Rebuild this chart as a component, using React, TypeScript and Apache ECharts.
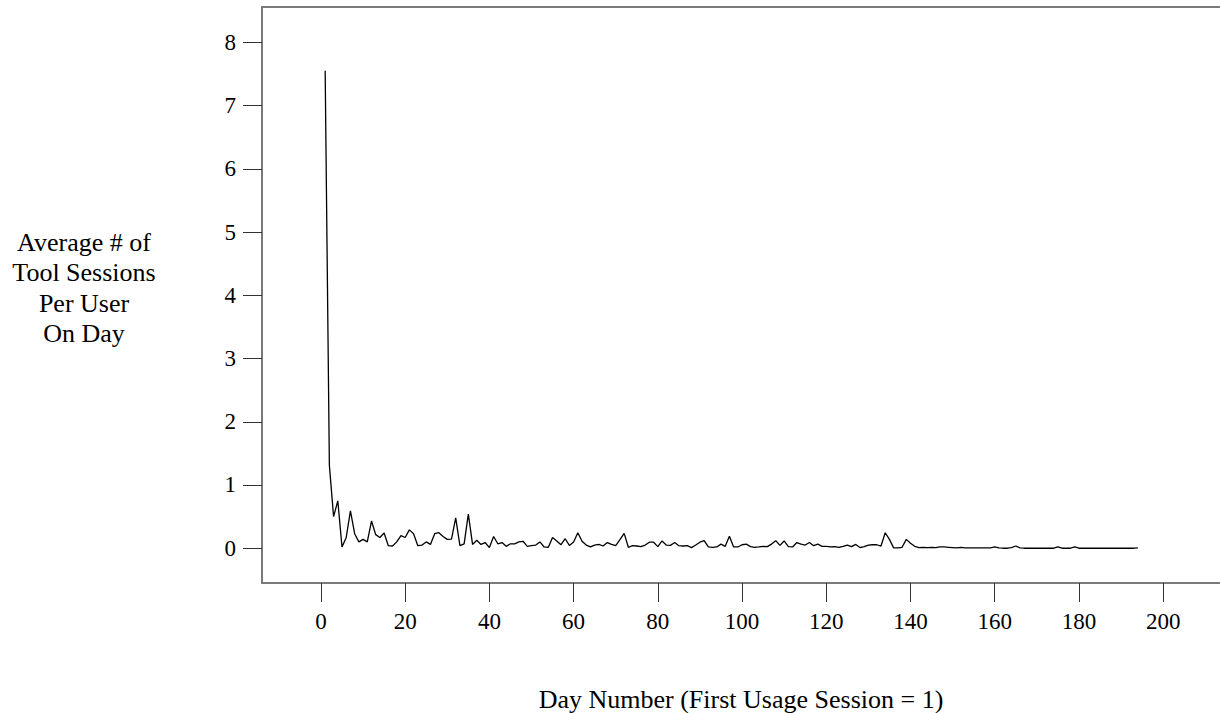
import React, { useEffect, useRef } from "react";
import * as echarts from "echarts";

// Average # of tool sessions per user, for day numbers starting at 1
const firstDay = 1;
const sessionsPerUser: number[] = [
  7.55, 1.31, 0.5, 0.75, 0.02, 0.17, 0.59, 0.23, 0.1, 0.14,
  0.1, 0.43, 0.215, 0.17, 0.24, 0.04, 0.035, 0.1, 0.2, 0.17,
  0.29, 0.23, 0.04, 0.05, 0.1, 0.06, 0.23, 0.245, 0.185, 0.14,
  0.145, 0.48, 0.04, 0.07, 0.54, 0.06, 0.125, 0.06, 0.09, 0.01,
  0.185, 0.07, 0.09, 0.03, 0.07, 0.07, 0.1, 0.11, 0.03, 0.04,
  0.05, 0.1, 0.02, 0.015, 0.17, 0.115, 0.055, 0.15, 0.045, 0.1,
  0.245, 0.11, 0.05, 0.02, 0.05, 0.06, 0.035, 0.09, 0.06, 0.04,
  0.135, 0.235, 0.015, 0.04, 0.035, 0.025, 0.05, 0.095, 0.095, 0.025,
  0.115, 0.05, 0.045, 0.09, 0.04, 0.035, 0.04, 0.01, 0.05, 0.095,
  0.12, 0.02, 0.015, 0.02, 0.065, 0.03, 0.19, 0.02, 0.02, 0.055,
  0.065, 0.025, 0.015, 0.02, 0.03, 0.025, 0.065, 0.12, 0.045, 0.115,
  0.025, 0.02, 0.09, 0.065, 0.05, 0.09, 0.04, 0.065, 0.03, 0.03,
  0.02, 0.025, 0.015, 0.03, 0.05, 0.025, 0.06, 0.01, 0.025, 0.05,
  0.055, 0.055, 0.035, 0.245, 0.14, 0.005, 0.005, 0.015, 0.14, 0.08,
  0.03, 0.01, 0.015, 0.01, 0.015, 0.01, 0.02, 0.02, 0.015, 0.01,
  0.005, 0.015, 0.005, 0.005, 0.005, 0.005, 0.005, 0.005, 0.005, 0.02,
  0.005, 0, 0, 0.01, 0.035, 0.005, 0, 0, 0, 0,
  0, 0, 0, 0, 0.02, 0, 0, 0, 0.02, 0,
  0, 0, 0, 0, 0, 0, 0, 0, 0, 0,
  0, 0, 0, 0.005,
];

const xTickValues = [0, 20, 40, 60, 80, 100, 120, 140, 160, 180, 200];
const yTickValues = [0, 1, 2, 3, 4, 5, 6, 7, 8];
const yAxisTitle = "Average # of\nTool Sessions\nPer User\nOn Day";
const xAxisTitle = "Day Number (First Usage Session = 1)";

const FONT = "Liberation Serif";

export default function App() {
  const ref = useRef<HTMLDivElement>(null);

  useEffect(() => {
    if (!ref.current) return;
    const chart = echarts.init(ref.current, undefined, { renderer: "svg" });
    const seriesData = sessionsPerUser.map((v, i) => [firstDay + i, v]);

    const axisLineStyle = { color: "#7a7a7a", width: 2 };

    chart.setOption({
      animation: false,
      backgroundColor: "#ffffff",
      textStyle: { fontFamily: FONT },
      grid: { left: 262, right: 0, top: 7, bottom: 130, containLabel: false },
      xAxis: [
        {
          type: "value",
          position: "bottom",
          min: -14,
          max: 213.5,
          axisLine: { show: true, onZero: false, lineStyle: axisLineStyle },
          axisTick: {
            show: true,
            length: 19,
            customValues: xTickValues,
            lineStyle: { color: "#333", width: 1 },
          },
          axisLabel: {
            show: true,
            customValues: xTickValues,
            margin: 27,
            color: "#000",
            fontSize: 23,
            fontFamily: FONT,
          },
          splitLine: { show: false },
        },
        {
          type: "value",
          position: "top",
          min: -14,
          max: 213.5,
          axisLine: { show: true, onZero: false, lineStyle: axisLineStyle },
          axisTick: { show: false },
          axisLabel: { show: false },
          splitLine: { show: false },
        },
      ],
      yAxis: {
        type: "value",
        min: -0.55,
        max: 8.56,
        axisLine: { show: true, onZero: false, lineStyle: axisLineStyle },
        axisTick: {
          show: true,
          length: 19,
          customValues: yTickValues,
          lineStyle: { color: "#333", width: 1 },
        },
        axisLabel: {
          show: true,
          customValues: yTickValues,
          margin: 26,
          color: "#000",
          fontSize: 23,
          fontFamily: FONT,
        },
        splitLine: { show: false },
      },
      graphic: [
        {
          type: "text",
          x: 84,
          y: 288,
          style: {
            text: yAxisTitle,
            fill: "#000",
            fontSize: 26,
            fontFamily: FONT,
            lineHeight: 30.5,
            textAlign: "center",
            textVerticalAlign: "middle",
          },
        },
        {
          type: "text",
          x: 741,
          y: 699,
          style: {
            text: xAxisTitle,
            fill: "#000",
            fontSize: 26,
            fontFamily: FONT,
            textAlign: "center",
            textVerticalAlign: "middle",
          },
        },
      ],
      series: [
        {
          type: "line",
          xAxisIndex: 0,
          data: seriesData,
          showSymbol: false,
          symbol: "none",
          lineStyle: { color: "#000", width: 1.3 },
          clip: true,
        },
      ],
    });

    return () => chart.dispose();
  }, []);

  return (
    <div
      ref={ref}
      style={{ position: "absolute", left: 0, top: 0, width: 1220, height: 713 }}
    />
  );
}
